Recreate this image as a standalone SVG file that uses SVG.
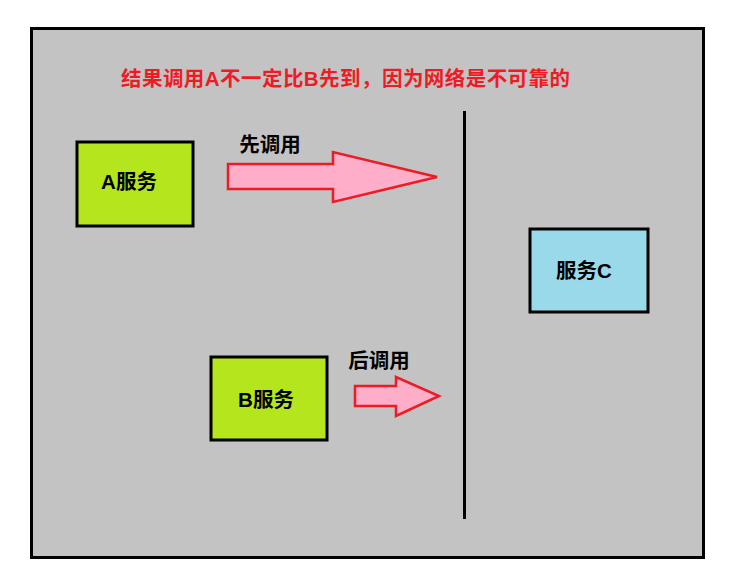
<svg xmlns="http://www.w3.org/2000/svg" width="732" height="584" viewBox="0 0 732 584">
<style>
text{font-family:"Liberation Sans","Noto Sans CJK SC",sans-serif;font-weight:bold;font-size:20.5px;text-anchor:middle;dominant-baseline:central}
.box{stroke:#000;stroke-width:3}
.arr{fill:#FFAEC9;stroke:#ED1C24;stroke-width:2.5;stroke-linejoin:miter}
</style>
<rect width="732" height="584" fill="#fff"/>
<rect x="31.5" y="28.5" width="672" height="529" fill="#C3C3C3" stroke="#000" stroke-width="3"/>
<text x="345.5" y="78" fill="#ED1C24" textLength="449" lengthAdjust="spacing">结果调用A不一定比B先到，因为网络是不可靠的</text>
<g id="a">
<rect class="box" x="77" y="142" width="116" height="84" fill="#B5E61D"/>
<text x="129" y="181">A服务</text>
</g>
<g id="b">
<rect class="box" x="211" y="357" width="116" height="83" fill="#B5E61D"/>
<text x="266" y="399">B服务</text>
</g>
<g id="c">
<rect class="box" x="530" y="229" width="118" height="83" fill="#99D9EA"/>
<text x="584" y="270">服务C</text>
</g>
<g id="connectors">
<polygon class="arr" points="228,164 333,164 333,152 437,177 333,202 333,189 228,189"/>
<text x="270" y="144">先调用</text>
<polygon class="arr" points="355,386 396,386 396,377 439,396 396,416 396,406 355,406"/>
<text x="379" y="360">后调用</text>
<line x1="464.5" y1="111" x2="464.5" y2="519" stroke="#000" stroke-width="3"/>
</g>
</svg>
